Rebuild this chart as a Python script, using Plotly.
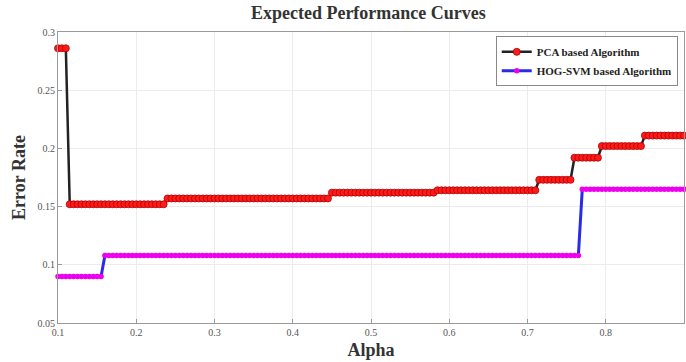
import plotly.graph_objects as go

alpha = [0.1, 0.105, 0.11, 0.115, 0.12, 0.125, 0.13, 0.135, 0.14, 0.145,
         0.15, 0.155, 0.16, 0.165, 0.17, 0.175, 0.18, 0.185, 0.19, 0.195,
         0.2, 0.205, 0.21, 0.215, 0.22, 0.225, 0.23, 0.235, 0.24, 0.245,
         0.25, 0.255, 0.26, 0.265, 0.27, 0.275, 0.28, 0.285, 0.29, 0.295,
         0.3, 0.305, 0.31, 0.315, 0.32, 0.325, 0.33, 0.335, 0.34, 0.345,
         0.35, 0.355, 0.36, 0.365, 0.37, 0.375, 0.38, 0.385, 0.39, 0.395,
         0.4, 0.405, 0.41, 0.415, 0.42, 0.425, 0.43, 0.435, 0.44, 0.445,
         0.45, 0.455, 0.46, 0.465, 0.47, 0.475, 0.48, 0.485, 0.49, 0.495,
         0.5, 0.505, 0.51, 0.515, 0.52, 0.525, 0.53, 0.535, 0.54, 0.545,
         0.55, 0.555, 0.56, 0.565, 0.57, 0.575, 0.58, 0.585, 0.59, 0.595,
         0.6, 0.605, 0.61, 0.615, 0.62, 0.625, 0.63, 0.635, 0.64, 0.645,
         0.65, 0.655, 0.66, 0.665, 0.67, 0.675, 0.68, 0.685, 0.69, 0.695,
         0.7, 0.705, 0.71, 0.715, 0.72, 0.725, 0.73, 0.735, 0.74, 0.745,
         0.75, 0.755, 0.76, 0.765, 0.77, 0.775, 0.78, 0.785, 0.79, 0.795,
         0.8, 0.805, 0.81, 0.815, 0.82, 0.825, 0.83, 0.835, 0.84, 0.845,
         0.85, 0.855, 0.86, 0.865, 0.87, 0.875, 0.88, 0.885, 0.89, 0.895,
         0.9]

pca_error = [0.286, 0.286, 0.286, 0.152, 0.152, 0.152, 0.152, 0.152, 0.152, 0.152,
             0.152, 0.152, 0.152, 0.152, 0.152, 0.152, 0.152, 0.152, 0.152, 0.152,
             0.152, 0.152, 0.152, 0.152, 0.152, 0.152, 0.152, 0.152, 0.157, 0.157,
             0.157, 0.157, 0.157, 0.157, 0.157, 0.157, 0.157, 0.157, 0.157, 0.157,
             0.157, 0.157, 0.157, 0.157, 0.157, 0.157, 0.157, 0.157, 0.157, 0.157,
             0.157, 0.157, 0.157, 0.157, 0.157, 0.157, 0.157, 0.157, 0.157, 0.157,
             0.157, 0.157, 0.157, 0.157, 0.157, 0.157, 0.157, 0.157, 0.157, 0.157,
             0.162, 0.162, 0.162, 0.162, 0.162, 0.162, 0.162, 0.162, 0.162, 0.162,
             0.162, 0.162, 0.162, 0.162, 0.162, 0.162, 0.162, 0.162, 0.162, 0.162,
             0.162, 0.162, 0.162, 0.162, 0.162, 0.162, 0.162, 0.164, 0.164, 0.164,
             0.164, 0.164, 0.164, 0.164, 0.164, 0.164, 0.164, 0.164, 0.164, 0.164,
             0.164, 0.164, 0.164, 0.164, 0.164, 0.164, 0.164, 0.164, 0.164, 0.164,
             0.164, 0.164, 0.164, 0.173, 0.173, 0.173, 0.173, 0.173, 0.173, 0.173,
             0.173, 0.173, 0.192, 0.192, 0.192, 0.192, 0.192, 0.192, 0.192, 0.202,
             0.202, 0.202, 0.202, 0.202, 0.202, 0.202, 0.202, 0.202, 0.202, 0.202,
             0.211, 0.211, 0.211, 0.211, 0.211, 0.211, 0.211, 0.211, 0.211, 0.211,
             0.211]

hog_error = [0.09, 0.09, 0.09, 0.09, 0.09, 0.09, 0.09, 0.09, 0.09, 0.09,
             0.09, 0.09, 0.108, 0.108, 0.108, 0.108, 0.108, 0.108, 0.108, 0.108,
             0.108, 0.108, 0.108, 0.108, 0.108, 0.108, 0.108, 0.108, 0.108, 0.108,
             0.108, 0.108, 0.108, 0.108, 0.108, 0.108, 0.108, 0.108, 0.108, 0.108,
             0.108, 0.108, 0.108, 0.108, 0.108, 0.108, 0.108, 0.108, 0.108, 0.108,
             0.108, 0.108, 0.108, 0.108, 0.108, 0.108, 0.108, 0.108, 0.108, 0.108,
             0.108, 0.108, 0.108, 0.108, 0.108, 0.108, 0.108, 0.108, 0.108, 0.108,
             0.108, 0.108, 0.108, 0.108, 0.108, 0.108, 0.108, 0.108, 0.108, 0.108,
             0.108, 0.108, 0.108, 0.108, 0.108, 0.108, 0.108, 0.108, 0.108, 0.108,
             0.108, 0.108, 0.108, 0.108, 0.108, 0.108, 0.108, 0.108, 0.108, 0.108,
             0.108, 0.108, 0.108, 0.108, 0.108, 0.108, 0.108, 0.108, 0.108, 0.108,
             0.108, 0.108, 0.108, 0.108, 0.108, 0.108, 0.108, 0.108, 0.108, 0.108,
             0.108, 0.108, 0.108, 0.108, 0.108, 0.108, 0.108, 0.108, 0.108, 0.108,
             0.108, 0.108, 0.108, 0.108, 0.165, 0.165, 0.165, 0.165, 0.165, 0.165,
             0.165, 0.165, 0.165, 0.165, 0.165, 0.165, 0.165, 0.165, 0.165, 0.165,
             0.165, 0.165, 0.165, 0.165, 0.165, 0.165, 0.165, 0.165, 0.165, 0.165,
             0.165]

x_ticks = [0.1, 0.2, 0.3, 0.4, 0.5, 0.6, 0.7, 0.8, 0.9]
x_tick_labels = ["0.1", "0.2", "0.3", "0.4", "0.5", "0.6", "0.7", "0.8", "0.9"]
y_ticks = [0.05, 0.1, 0.15, 0.2, 0.25, 0.3]
y_tick_labels = ["0.05", "0.1", "0.15", "0.2", "0.25", "0.3"]

serif = "Liberation Serif, Times New Roman, serif"

fig = go.Figure()
fig.add_trace(go.Scatter(
    x=alpha, y=pca_error, mode="lines+markers", name="PCA based Algorithm",
    line=dict(color="#222222", width=2.5),
    marker=dict(color="#ff1a1a", size=7, symbol="circle",
                line=dict(color="#b00000", width=0.8)),
    cliponaxis=False,
))
fig.add_trace(go.Scatter(
    x=alpha, y=hog_error, mode="lines+markers", name="HOG-SVM based Algorithm",
    line=dict(color="#2a2ae8", width=3),
    marker=dict(color="#ee00ee", size=5.5, symbol="circle"),
    cliponaxis=False,
))

axis_common = dict(
    showline=True, linecolor="#9a9a9a", linewidth=1, mirror=True,
    showgrid=True, gridcolor="#ececec", gridwidth=1,
    ticks="inside", ticklen=4, tickcolor="#9a9a9a",
    tickfont=dict(family=serif, size=10, color="#555555"),
    zeroline=False, automargin=False,
)

fig.update_layout(
    width=686, height=362,
    margin=dict(l=58, r=2, t=32, b=39),
    paper_bgcolor="white", plot_bgcolor="white",
    title=dict(text="<b>Expected Performance Curves</b>", x=0.537, xanchor="center",
               y=0.965, yanchor="middle",
               font=dict(family=serif, size=18, color="#333333")),
    xaxis=dict(range=[0.1, 0.9], tickvals=x_ticks, ticktext=x_tick_labels,
               title=dict(text="<b>Alpha</b>", standoff=6,
                          font=dict(family=serif, size=18, color="#333333")),
               **axis_common),
    yaxis=dict(range=[0.05, 0.3], tickvals=y_ticks, ticktext=y_tick_labels,
               title=dict(text="<b>Error Rate</b>", standoff=7,
                          font=dict(family=serif, size=18, color="#333333")),
               **axis_common),
    legend=dict(x=0.99, xanchor="right", y=0.985, yanchor="top",
                bgcolor="white", bordercolor="#888888", borderwidth=1,
                font=dict(family=serif, size=11, color="#222222", weight="bold"),
                tracegroupgap=0, itemwidth=30),
    showlegend=True,
)

fig.write_html("out.html",
               config={"displayModeBar": False},
               post_script="document.body.style.margin='0';document.body.style.padding='0';")
